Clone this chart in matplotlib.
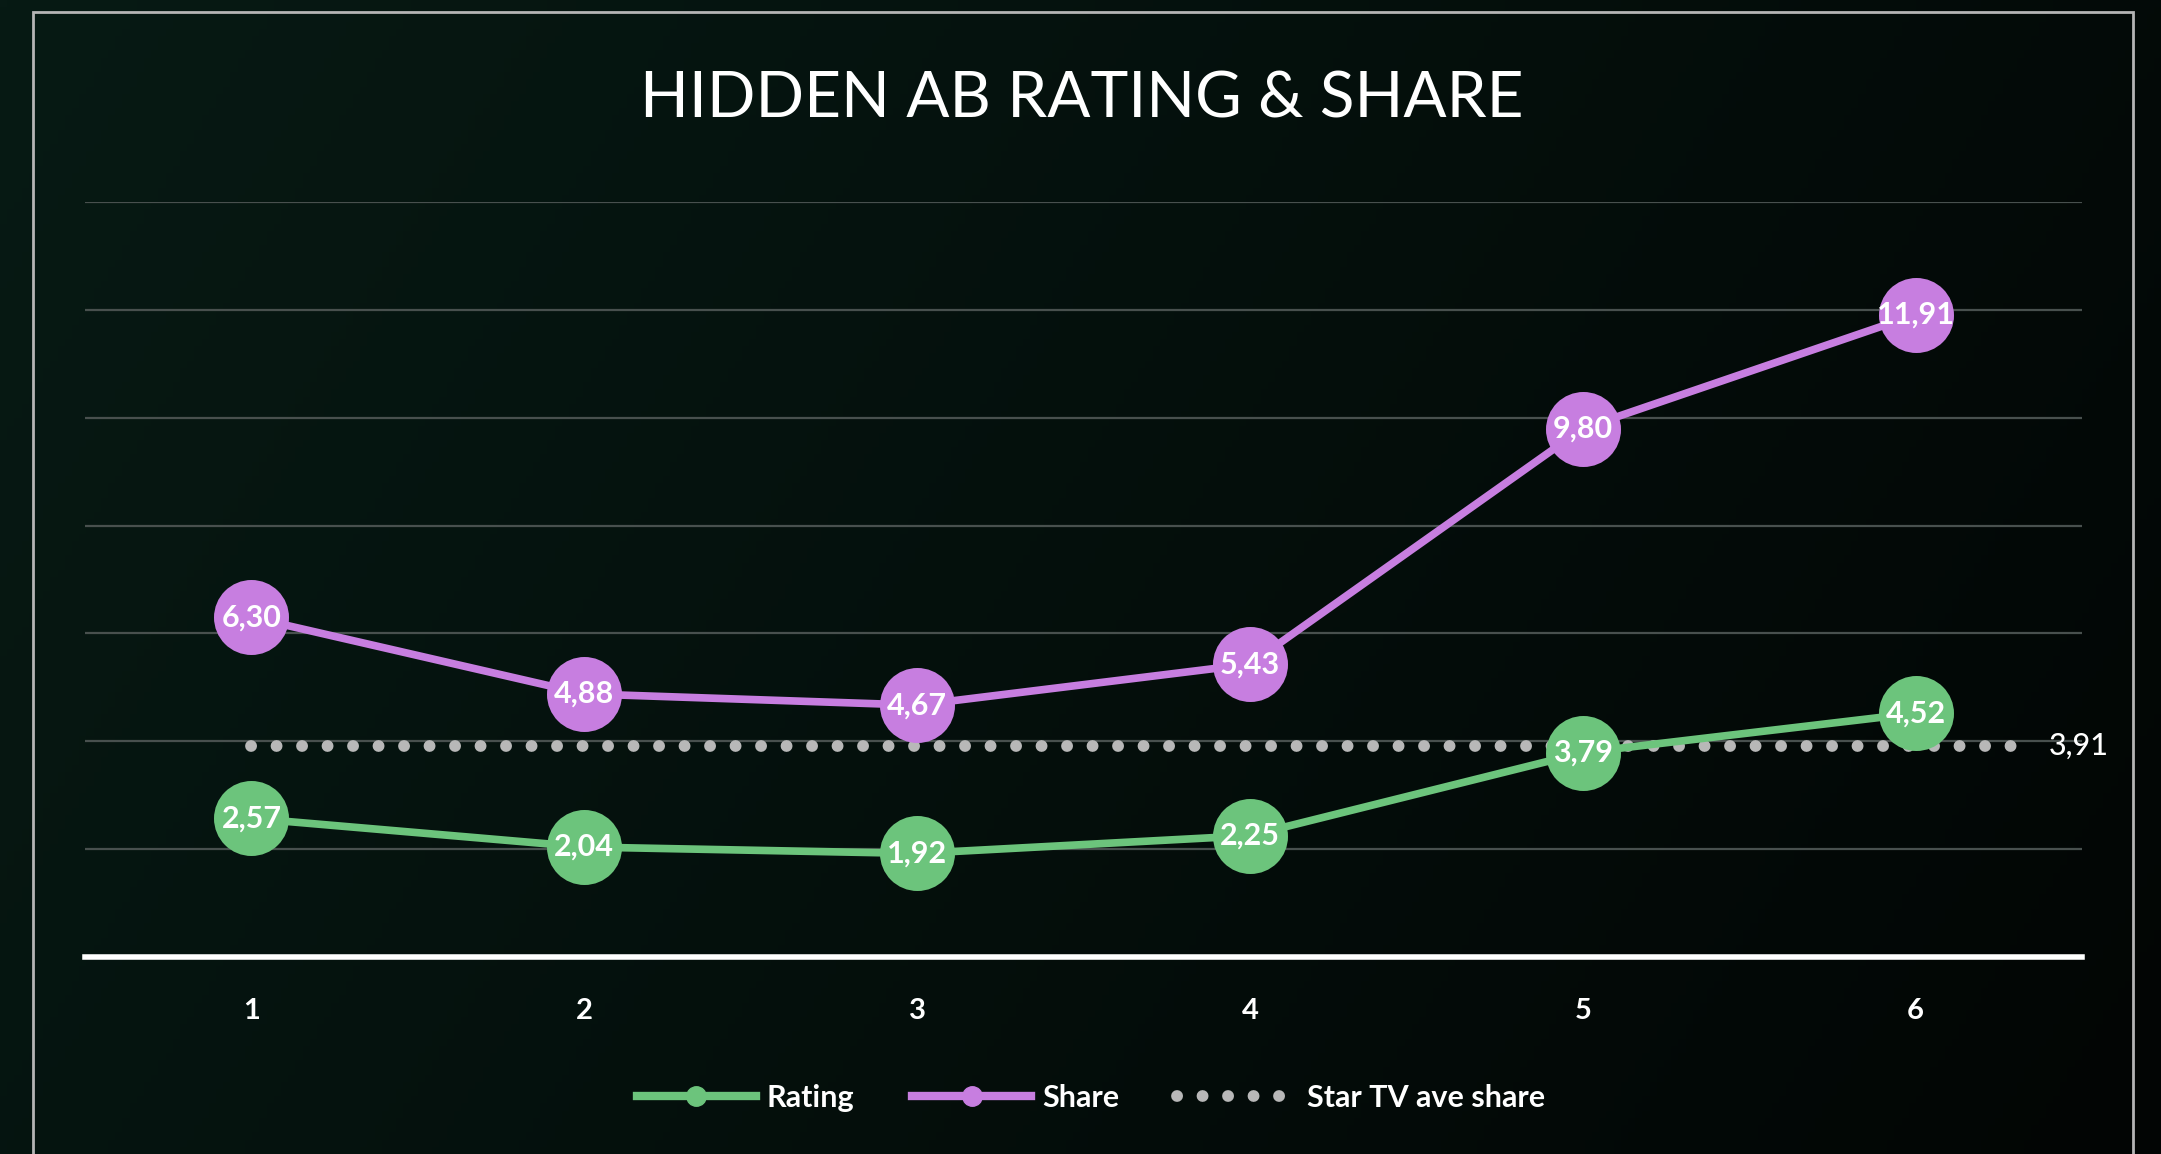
import numpy as np
import matplotlib
matplotlib.use("Agg")
import matplotlib.pyplot as plt
from matplotlib.lines import Line2D
from matplotlib.patches import Rectangle

episodes = [1, 2, 3, 4, 5, 6]
rating = [2.57, 2.04, 1.92, 2.25, 3.79, 4.52]
share = [6.30, 4.88, 4.67, 5.43, 9.80, 11.91]
star_avg = 3.91
title = "HIDDEN AB RATING & SHARE"
series_names = ["Rating", "Share", "Star TV ave share"]

GREEN = "#6cc47c"
PURPLE = "#c77ee0"
DOTS = "#b8b8b8"

W, H = 2161, 1154
fig = plt.figure(figsize=(W / 100, H / 100), dpi=100)

# background gradient
bg = fig.add_axes([0, 0, 1, 1], zorder=-10)
bg.axis("off")
xx = np.linspace(0, 1, 300)
yy = np.linspace(0, 1, 160)
X, Y = np.meshgrid(xx, yy)
t = np.clip(0.75 * X + 0.25 * Y, 0, 1)
c0 = np.array([0x07, 0x1a, 0x14]) / 255
c1 = np.array([0x02, 0x05, 0x04]) / 255
img = c0[None, None, :] * (1 - t[..., None]) + c1[None, None, :] * t[..., None]
bg.imshow(img, aspect="auto", extent=[0, 1, 0, 1], origin="upper")
bg.set_xlim(0, 1)
bg.set_ylim(0, 1)

# frame border
fig.patches.append(Rectangle((33 / W, -0.02), (2133 - 33) / W, (H - 12) / H + 0.02,
                             transform=fig.transFigure, fill=False,
                             edgecolor="#b5b5b5", lw=2, zorder=1))

ax = fig.add_axes([85 / W, 1 - 957 / H, (2082 - 85) / W, (957 - 202) / H])
ax.set_facecolor("none")
ax.set_xlim(0.5, 6.5)
ax.set_ylim(0, 14)
ax.set_yticks(np.arange(2, 15, 2))
ax.yaxis.grid(True, color="#48504e", lw=1.6)
ax.set_axisbelow(True)
for s in ["top", "right", "left"]:
    ax.spines[s].set_visible(False)
ax.spines["bottom"].set_color("white")
ax.spines["bottom"].set_linewidth(4)
ax.tick_params(axis="y", left=False, labelleft=False)
ax.tick_params(axis="x", bottom=False, colors="white", labelsize=21, pad=26)
ax.set_xticks(episodes)
ax.set_xticklabels([str(e) for e in episodes], fontfamily="Lato", fontweight="bold")

# average dotted line
ax.plot([episodes[0], episodes[-1] + 0.32], [star_avg, star_avg], color=DOTS,
        lw=8.5, linestyle=(0, (0.01, 2.15)), dash_capstyle="round", zorder=2)
ax.text(episodes[-1] + 0.40, star_avg, f"{star_avg:.2f}".replace(".", ","),
        color="white", fontsize=22, fontfamily="Lato", fontweight="medium",
        va="center", ha="left")

for vals, col in [(rating, GREEN), (share, PURPLE)]:
    ax.plot(episodes, vals, color=col, lw=5.5, marker="o", markersize=54,
            markeredgewidth=0, zorder=3)
    for x, v in zip(episodes, vals):
        ax.text(x, v, f"{v:.2f}".replace(".", ","), color="white", fontsize=22,
                fontweight="bold", fontfamily="Lato", ha="center", va="center", zorder=5)

fig.text(1082 / W, 1 - 99 / H, title, color="white", fontsize=46,
         fontfamily="Lato", fontweight="normal", ha="center", va="center")

handles = [
    Line2D([], [], color=GREEN, lw=6, marker="o", markersize=14),
    Line2D([], [], color=PURPLE, lw=6, marker="o", markersize=14),
    Line2D([], [], color=DOTS, lw=8.5, linestyle=(0, (0.01, 2.15)), dash_capstyle="round"),
]
leg = fig.legend(handles, series_names, loc="center", bbox_to_anchor=(1091 / W, 1 - 1098 / H),
                 ncol=3, frameon=False, handlelength=3.9, handletextpad=0.35,
                 columnspacing=1.9, prop={"family": "Lato", "weight": "bold", "size": 22})
for txt in leg.get_texts():
    txt.set_color("white")

fig.savefig("out.png", dpi=100, facecolor=fig.get_facecolor())
